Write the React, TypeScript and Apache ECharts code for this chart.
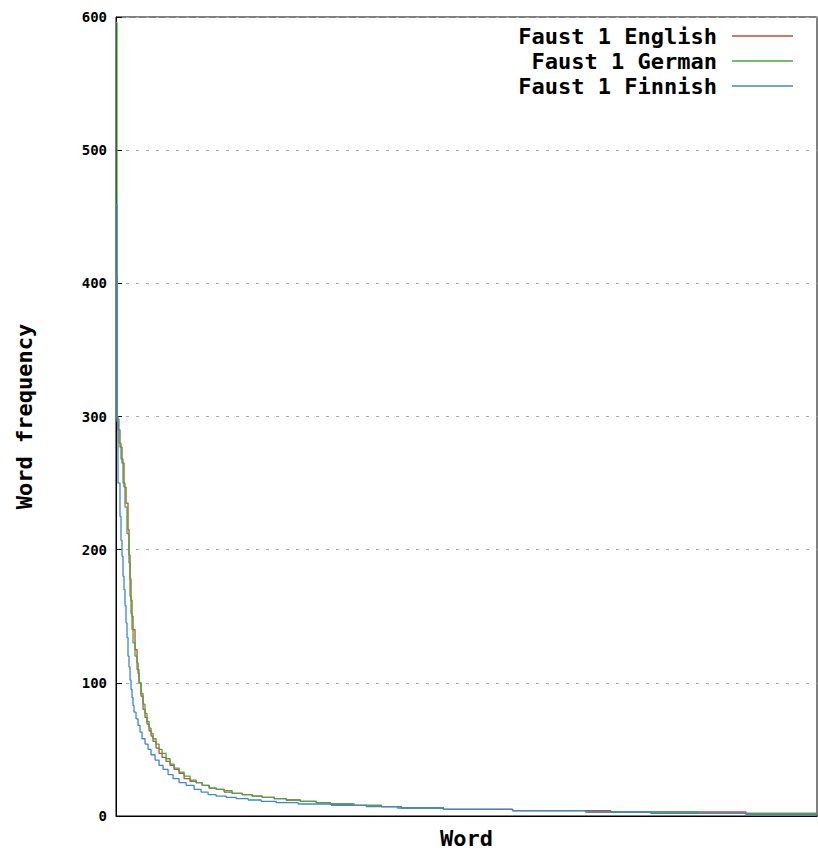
import React, { useEffect, useRef } from "react";
import * as echarts from "echarts";

// Series names (legend)
const seriesNames = ["Faust 1 English", "Faust 1 German", "Faust 1 Finnish"];

// [rank, word frequency] at each change of the step curve
const englishSteps: [number, number][] = [
  [0, 406], [1, 300], [2, 290], [4, 277], [6, 265], [8, 247], [10, 235], [12, 215], [13, 196],
  [14, 178], [15, 162], [16, 150], [17, 140], [19, 125], [21, 115], [22, 107], [23, 100], [25, 90],
  [27, 80], [29, 74], [31, 69], [33, 64], [35, 60], [37, 56], [40, 51], [43, 47], [46, 44], [50, 41],
  [54, 38], [58, 35], [63, 32], [68, 28], [74, 26], [80, 25], [86, 23], [93, 21], [100, 20], [108, 18],
  [116, 17], [126, 16], [136, 15], [146, 14], [158, 13], [170, 12], [184, 11], [200, 10], [214, 9],
  [236, 8], [265, 7], [285, 6], [327, 5], [396, 4], [494, 3], [629, 2], [700, 2],
];

const germanSteps: [number, number][] = [
  [0, 596], [1, 298], [3, 280], [5, 268], [7, 250], [9, 232], [11, 212], [13, 190], [14, 165],
  [15, 152], [16, 140], [17, 130], [19, 120], [21, 110], [23, 100], [25, 92], [27, 84], [29, 77],
  [31, 71], [33, 66], [35, 62], [37, 58], [40, 54], [43, 50], [46, 47], [50, 43], [54, 39], [58, 36],
  [63, 33], [68, 30], [74, 27], [80, 25], [86, 23], [93, 21], [100, 20], [108, 19], [116, 17],
  [126, 16], [136, 15], [146, 14], [158, 13], [170, 12], [184, 11], [200, 10], [214, 9], [238, 8],
  [265, 7], [281, 6], [327, 5], [396, 4], [469, 3], [581, 2], [700, 2],
];

const finnishSteps: [number, number][] = [
  [0, 459], [1, 296], [2, 250], [4, 225], [5, 207], [6, 195], [7, 180], [8, 170], [9, 158],
  [10, 145], [11, 134], [12, 120], [13, 112], [14, 102], [15, 95], [16, 89], [17, 83], [18, 78],
  [20, 73], [22, 68], [24, 63], [26, 58], [29, 54], [32, 50], [35, 46], [39, 42], [43, 38], [47, 35],
  [52, 31], [57, 28], [63, 25], [70, 23], [78, 20], [85, 18], [92, 16], [100, 15], [110, 14],
  [120, 13], [132, 12], [145, 11], [160, 10], [182, 9], [215, 8], [250, 7], [285, 6], [327, 5],
  [396, 4], [469, 3], [534, 2], [629, 1], [700, 1],
];

// Axis settings
const yTicks = [0, 100, 200, 300, 400, 500, 600];
const xMaxRank = 700;

const seriesData = [englishSteps, germanSteps, finnishSteps];
const colors = ["#c8483a", "#4aa542", "#3f86d0"];

export default function App() {
  const ref = useRef<HTMLDivElement>(null);

  useEffect(() => {
    if (!ref.current) return;
    const chart = echarts.init(ref.current, null, { renderer: "svg" });
    const font = "'DejaVu Sans Mono', monospace";
    const legendX = 717;
    const legendLineX1 = 732;
    const legendLineX2 = 793;
    const legendRowY = [36, 61, 86];

    const legendGraphics: any[] = [];
    seriesNames.forEach((name, i) => {
      legendGraphics.push({
        type: "text",
        x: legendX,
        y: legendRowY[i],
        style: {
          text: name,
          fill: "#000",
          font: `bold 22px ${font}`,
          textAlign: "right",
          textVerticalAlign: "middle",
          align: "right",
          verticalAlign: "middle",
        },
      });
      legendGraphics.push({
        type: "line",
        shape: { x1: legendLineX1, y1: legendRowY[i], x2: legendLineX2, y2: legendRowY[i] },
        style: { stroke: colors[i], lineWidth: 1.3 },
      });
    });

    chart.setOption({
      animation: false,
      grid: {
        left: 116,
        right: 1,
        top: 17,
        bottom: 34,
        show: true,
        borderColor: "#000",
        borderWidth: 1,
        backgroundColor: "transparent",
        containLabel: false,
        outerBoundsMode: "none",
      },
      xAxis: {
        type: "value",
        min: 0,
        max: xMaxRank,
        name: "Word",
        nameLocation: "middle",
        nameGap: 11,
        nameTextStyle: { fontFamily: font, fontWeight: "bold", fontSize: 22, color: "#000" },
        axisLabel: { show: false },
        axisTick: { show: false },
        splitLine: { show: false },
        axisLine: { show: true, lineStyle: { color: "#000", width: 1 } },
      },
      yAxis: {
        type: "value",
        min: yTicks[0],
        max: yTicks[yTicks.length - 1],
        interval: yTicks[1] - yTicks[0],
        name: "Word frequency",
        nameLocation: "middle",
        nameGap: 81,
        nameTextStyle: { fontFamily: font, fontWeight: "bold", fontSize: 22, color: "#000" },
        axisLabel: {
          fontFamily: font,
          fontWeight: "bold",
          fontSize: 14,
          color: "#000",
          margin: 9,
        },
        axisTick: { show: true, inside: true, length: 6, lineStyle: { color: "#000" } },
        axisLine: { show: true, lineStyle: { color: "#000", width: 1 } },
        splitLine: {
          show: true,
          lineStyle: { color: "#aaaaaa", type: [3, 7], width: 1 },
        },
      },
      series: seriesNames.map((name, i) => ({
        name,
        type: "line",
        step: "end",
        data: seriesData[i],
        showSymbol: false,
        symbol: "none",
        lineStyle: { color: colors[i], width: 1.3 },
        itemStyle: { color: colors[i] },
        z: 2 + i,
      })),
      graphic: legendGraphics,
    });

    return () => chart.dispose();
  }, []);

  return (
    <div
      ref={ref}
      style={{ position: "absolute", left: 0, top: 0, width: 818, height: 850 }}
    />
  );
}
